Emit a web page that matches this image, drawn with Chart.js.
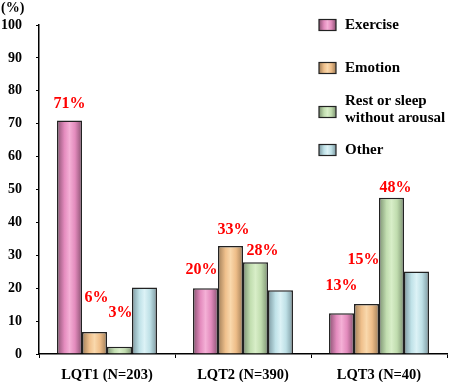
<!DOCTYPE html>
<html>
<head>
<meta charset="utf-8">
<script src="https://cdn.jsdelivr.net/npm/chart.js@4/dist/chart.umd.min.js"></script>
<style>
  html, body { margin: 0; padding: 0; background: #fff; }
  #chart { display: block; }
</style>
</head>
<body>
<canvas id="chart" width="449" height="382"></canvas>
<script>
'use strict';

// ------------------------------- Data ------------------------------//
const groups = ['LQT1 (N=203)', 'LQT2 (N=390)', 'LQT3 (N=40)'];
const seriesNames = ['Exercise', 'Emotion', ['Rest or sleep', 'without arousal'], 'Other'];

const exerciseVals = [71, 20, 12.4];
const emotionVals = [6.7, 32.8, 15.2];
const restVals = [2.2, 27.9, 47.5];
const otherVals = [20.2, 19.4, 25.1];

const exerciseLabels = ['71%', '20%', '13%'];
const emotionLabels = ['6%', '33%', '15%'];
const restLabels = ['3%', '28%', '48%'];
const otherLabels = [null, null, null];

const yTicks = [0, 10, 20, 30, 40, 50, 60, 70, 80, 90, 100];

// ------------------------------- Styles ------------------------------//
// gradient stops per series: edge, mid, highlight, mid, edge
const shades = [
  ['#8a5272', '#e48cbe', '#f4b0d6', '#e38bbd', '#8a5272'],
  ['#a07e58', '#efc08c', '#f9d8ac', '#eebd88', '#a07e58'],
  ['#7c9272', '#c2deb0', '#d8eec8', '#c0dcae', '#7c9272'],
  ['#7c98a0', '#c0e2e8', '#dcf2f6', '#bee0e6', '#7c98a0']
];
// label offset from bar top centre [dx, dy]
const labelNudge = [
  [[0, -17], [-4, -18], [0, -27]],
  [[2, -34], [3, -16], [-3, -44]],
  [[1, -34], [7, -11], [4, -10]],
  [[0, 0], [0, 0], [0, 0]]
];
const serif = '"Liberation Serif", "Times New Roman", serif';

function makeGradient(ctx, left, right, stops) {
  const g = ctx.createLinearGradient(left, 0, right, 0);
  g.addColorStop(0, stops[0]);
  g.addColorStop(0.3, stops[1]);
  g.addColorStop(0.5, stops[2]);
  g.addColorStop(0.72, stops[3]);
  g.addColorStop(1, stops[4]);
  return g;
}

// ------------------------------- Plugins ------------------------------//
const shadedBars = {
  id: 'shadedBars',
  beforeDatasetsDraw(chart) {
    const ctx = chart.ctx;
    chart.data.datasets.forEach((ds, i) => {
      chart.getDatasetMeta(i).data.forEach(bar => {
        const p = bar.getProps(['x', 'width'], true);
        const grad = makeGradient(ctx, p.x - p.width / 2, p.x + p.width / 2, shades[i]);
        // options can be shared between bars, so give each bar its own copy
        bar.options = Object.assign({}, bar.options, { backgroundColor: grad });
      });
    });
  }
};

const extras = {
  id: 'extras',
  afterDraw(chart) {
    const ctx = chart.ctx;
    ctx.save();

    // value labels
    ctx.fillStyle = '#ff0000';
    ctx.font = 'bold 16px ' + serif;
    ctx.textAlign = 'center';
    ctx.textBaseline = 'middle';
    const allLabels = [exerciseLabels, emotionLabels, restLabels, otherLabels];
    chart.data.datasets.forEach((ds, i) => {
      chart.getDatasetMeta(i).data.forEach((bar, j) => {
        const txt = allLabels[i][j];
        if (!txt) return;
        const n = labelNudge[i][j];
        ctx.fillText(txt, bar.x + n[0], bar.y + n[1]);
      });
    });

    // unit
    ctx.fillStyle = '#000';
    ctx.font = 'bold 14px ' + serif;
    ctx.textAlign = 'left';
    ctx.fillText('(%)', 1, 8);

    // legend
    const rows = [25, 68, 112, 150];
    seriesNames.forEach((name, i) => {
      const cy = rows[i];
      ctx.fillStyle = makeGradient(ctx, 319, 336, shades[i]);
      ctx.fillRect(319, cy - 5.5, 17, 11);
      ctx.strokeStyle = '#222';
      ctx.lineWidth = 1.2;
      ctx.strokeRect(319, cy - 5.5, 17, 11);
      ctx.fillStyle = '#000';
      ctx.font = 'bold 15px ' + serif;
      if (Array.isArray(name)) {
        ctx.fillText(name[0], 345, cy - 11);
        ctx.fillText(name[1], 345, cy + 6);
      } else {
        ctx.fillText(name, 345, cy);
      }
    });
    ctx.restore();
  }
};

// ------------------------------- Chart ------------------------------//
const seriesVals = [exerciseVals, emotionVals, restVals, otherVals];

new Chart(document.getElementById('chart'), {
  type: 'bar',
  data: {
    labels: groups,
    datasets: seriesVals.map((vals, i) => ({
      label: Array.isArray(seriesNames[i]) ? seriesNames[i].join(' ') : seriesNames[i],
      data: vals,
      backgroundColor: shades[i][1],
      borderColor: '#222',
      borderWidth: 1.5,
      barPercentage: 1,
      categoryPercentage: 0.735
    }))
  },
  options: {
    responsive: false,
    animation: false,
    layout: { padding: { top: 25, right: 2, left: 2, bottom: 0 } },
    plugins: {
      legend: { display: false },
      tooltip: { enabled: false }
    },
    scales: {
      x: {
        afterFit(scale) { scale.height = 28; },
        grid: { display: true, drawOnChartArea: false, tickLength: 4, color: '#000', lineWidth: 1 },
        border: { display: true, color: '#000', width: 1.5 },
        ticks: {
          color: '#000',
          padding: 9,
          font: { family: serif, size: 14.5, weight: 'bold' }
        }
      },
      y: {
        min: 0,
        max: 100,
        afterFit(scale) { scale.width = 37; },
        afterBuildTicks(scale) { scale.ticks = yTicks.map(v => ({ value: v })); },
        grid: { display: true, drawOnChartArea: false, tickLength: 3, color: '#000', lineWidth: 1 },
        border: { display: true, color: '#000', width: 1.5 },
        ticks: {
          color: '#000',
          padding: 14,
          font: { family: serif, size: 14, weight: 'bold' }
        }
      }
    }
  },
  plugins: [shadedBars, extras]
});
</script>
</body>
</html>
